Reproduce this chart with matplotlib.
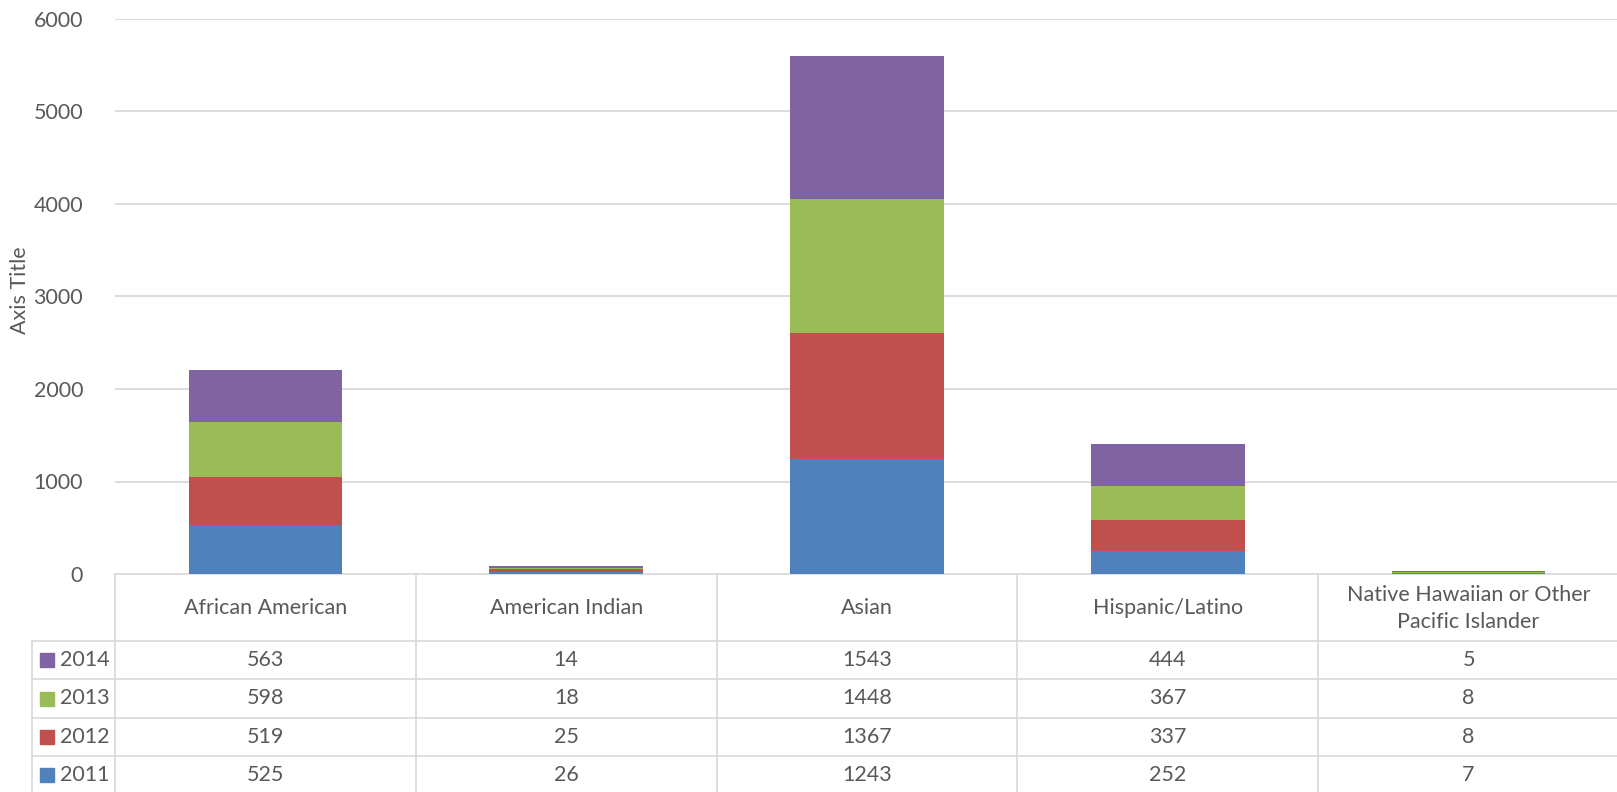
import matplotlib.pyplot as plt
import numpy as np

categories = ['African American', 'American Indian', 'Asian', 'Hispanic/Latino',
              'Native Hawaiian or Other\nPacific Islander']
years = ['2011', '2012', '2013', '2014']
vals_2011 = [525, 26, 1243, 252, 7]
vals_2012 = [519, 25, 1367, 337, 8]
vals_2013 = [598, 18, 1448, 367, 8]
vals_2014 = [563, 14, 1543, 444, 5]
yticks = [0, 1000, 2000, 3000, 4000, 5000, 6000]

colors = ['#4F81BD', '#C0504D', '#9BBB59', '#8064A2']
text_col = '#595959'
grid_col = '#D9D9D9'
fs = 15.5

plt.rcParams['font.family'] = ['Lato', 'DejaVu Sans']

W, H = 1617, 792
fig = plt.figure(figsize=(W / 100, H / 100), dpi=100)

# pixel layout
left_px, right_px = 115, 1619
top_px, zero_px = 19, 574
col_w = (right_px - left_px) / len(categories)


def fx(px):
    return px / W


def fy(py):
    return 1 - py / H


ax = fig.add_axes([fx(left_px), fy(zero_px), fx(right_px - left_px), (zero_px - top_px) / H])
series = [vals_2011, vals_2012, vals_2013, vals_2014]
x = np.arange(len(categories))
bottom = np.zeros(len(categories))
for vals, c in zip(series, colors):
    ax.bar(x, vals, 0.51, bottom=bottom, color=c, zorder=3)
    bottom += np.array(vals)

ax.set_xlim(-0.5, len(categories) - 0.5)
ax.set_ylim(0, 6000)
ax.set_yticks(yticks)
ax.set_yticklabels([str(t) for t in yticks], fontsize=fs, color=text_col)
ax.tick_params(axis='y', length=0, pad=23)
ax.set_xticks([])
ax.yaxis.grid(True, color=grid_col, linewidth=1.3, zorder=0)
for s in ax.spines.values():
    s.set_visible(False)
fig.text(fx(20), fy(290), 'Axis Title', rotation=90, ha='center', va='center',
         fontsize=fs, color=text_col)

# data table under the plot
tab = fig.add_axes([0, 0, 1, 1], zorder=-1)
tab.set_xlim(0, W)
tab.set_ylim(H, 0)
tab.axis('off')

row_lines = [641, 679, 718, 756, 794]
lw = 1.2
tab.plot([left_px, right_px], [zero_px, zero_px], color=grid_col, lw=lw)
for yl in row_lines:
    tab.plot([32, right_px], [yl, yl], color=grid_col, lw=lw)
tab.plot([32, 32], [row_lines[0], H + 5], color=grid_col, lw=lw)
for k in range(len(categories) + 1):
    xl = left_px + k * col_w
    tab.plot([xl, xl], [zero_px, H + 5], color=grid_col, lw=lw)

for i, cat in enumerate(categories):
    cx = left_px + (i + 0.5) * col_w
    tab.text(cx, (zero_px + row_lines[0]) / 2 + 1, cat, ha='center', va='center',
             fontsize=fs, color=text_col, linespacing=1.4)

row_order = [3, 2, 1, 0]
for r, si in enumerate(row_order):
    cy = (row_lines[r] + row_lines[r + 1]) / 2
    tab.add_patch(plt.Rectangle((40, cy - 7), 14, 14, color=colors[si]))
    tab.text(60, cy, years[si], ha='left', va='center', fontsize=fs, color=text_col)
    for i in range(len(categories)):
        cx = left_px + (i + 0.5) * col_w
        tab.text(cx, cy, str(series[si][i]), ha='center', va='center',
                 fontsize=fs, color=text_col)

fig.savefig('out.png', dpi=100)
